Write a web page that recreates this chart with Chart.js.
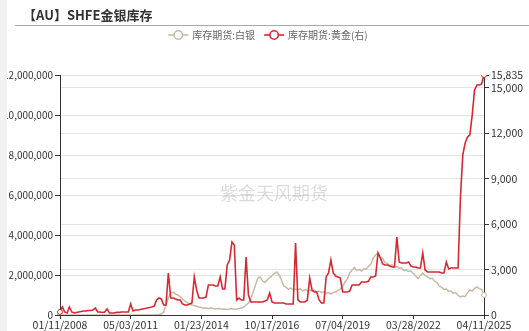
<!DOCTYPE html>
<html>
<head>
<meta charset="utf-8">
<title>SHFE金银库存</title>
<script src="https://cdn.jsdelivr.net/npm/chart.js@4.4.1/dist/chart.umd.min.js"></script>
<style>
  html, body { margin: 0; padding: 0; background: #fff; }
  #wrap { position: relative; width: 529px; height: 331px; }
</style>
</head>
<body>
<div id="wrap"><canvas id="inventory-chart" width="529" height="331"></canvas></div>
<script>
// data
const chartTitle = "【AU】SHFE金银库存";
const seriesNames = ["库存期货:白银", "库存期货:黄金(右)"];
const watermark = "紫金天风期货";

// one label every 30 points on the category axis
const tickStep = 30;
const tickLabels = ["01/11/2008", "05/03/2011", "01/23/2014", "10/17/2016", "07/04/2019", "03/28/2022", "04/11/2025"];
const leftTicks = [0, 2000000, 4000000, 6000000, 8000000, 10000000, 12000000];
const rightTicks = [0, 3000, 6000, 9000, 12000, 15000, 15835];

// silver inventory (kg), left axis
const silver = [
  0, 0, 0, 0, 0, 0, 0, 0, 0, 0,
  0, 0, 0, 0, 0, 0, 0, 0, 0, 0,
  0, 0, 0, 0, 0, 0, 0, 0, 0, 0,
  0, 0, 0, 0, 0, 0, 0, 0, 0, 0,
  0, 10000, 20000, 50000, 150000, 500000, 850000, 1100000, 1150000, 1050000,
  1000000, 920000, 800000, 700000, 620000, 560000, 500000, 470000, 440000, 400000,
  380000, 340000, 360000, 330000, 350000, 320000, 300000, 330000, 310000, 290000,
  300000, 280000, 300000, 310000, 290000, 300000, 320000, 350000, 400000, 500000,
  600000, 800000, 1150000, 1500000, 1850000, 1900000, 1700000, 1620000, 1750000, 1880000,
  1950000, 2080000, 2150000, 2000000, 1750000, 1450000, 1380000, 1280000, 1350000, 1250000,
  1300000, 1260000, 1320000, 1200000, 1280000, 1220000, 1260000, 1190000, 1240000, 1150000,
  1200000, 1120000, 1160000, 1080000, 1120000, 1050000, 1130000, 1150000, 1220000, 1300000,
  1450000, 1650000, 1800000, 2100000, 2250000, 2380000, 2220000, 2280000, 2200000, 2320000,
  2300000, 2420000, 2550000, 2850000, 3000000, 3100000, 2900000, 2820000, 2620000, 2580000,
  2480000, 2500000, 2380000, 2420000, 2330000, 2360000, 2220000, 2260000, 2180000, 2200000,
  2080000, 1950000, 1830000, 1980000, 2100000, 1980000, 1920000, 1820000, 1840000, 1700000,
  1620000, 1450000, 1380000, 1280000, 1300000, 1180000, 1200000, 1080000, 1120000, 980000,
  900000, 950000, 920000, 1120000, 1250000, 1200000, 1330000, 1400000, 1320000, 1280000,
  1000000
];

// gold inventory (kg), right axis
const gold = [
  200, 530, 200, 130, 530, 200, 130, 170, 200, 230,
  260, 260, 300, 300, 330, 460, 200, 200, 170, 200,
  400, 130, 130, 130, 170, 170, 200, 200, 200, 200,
  730, 270, 330, 330, 360, 400, 430, 460, 500, 530,
  590, 990, 1120, 1060, 660, 660, 2770, 1120, 1120, 1060,
  990, 990, 730, 660, 660, 730, 790, 2510, 1650, 1120,
  1120, 1120, 1190, 1980, 1980, 1980, 1910, 1910, 2510, 1720,
  1720, 3300, 3630, 4820, 4620, 990, 1120, 990, 990, 3830,
  1320, 860, 860, 860, 860, 860, 860, 920, 990, 1450,
  860, 790, 790, 790, 790, 790, 730, 730, 730, 730,
  4750, 1000, 860, 860, 860, 990, 2440, 1650, 1520, 1520,
  990, 790, 790, 2510, 2770, 3630, 2770, 2570, 2510, 2440,
  1520, 1520, 1520, 1580, 1980, 1980, 1980, 1980, 2180, 2180,
  2180, 2240, 2510, 2510, 2570, 4090, 3760, 3370, 3300, 3300,
  3230, 3170, 3170, 5150, 3500, 3430, 3430, 3430, 3500, 3230,
  3170, 3170, 3100, 3100, 4090, 2970, 2840, 2840, 2840, 2840,
  2840, 2840, 2770, 2770, 3500, 3040, 3100, 3100, 3100, 3100,
  7790, 10560, 11350, 11740, 11880, 13200, 14850, 15180, 15180, 15240,
  15835
];

const silverColor = "#c9baa6";
const goldColor = "#d42a30";
const labelFont = "'Noto Sans CJK SC', 'Liberation Sans', sans-serif";

Chart.defaults.font.family = labelFont;
Chart.defaults.font.size = 10.5;
Chart.defaults.color = "#333";

// category index per point, named ticks every tickStep
const categories = silver.map(function (v, i) { return i; });

function fmt(v) {
  return Number(v).toLocaleString("en-US");
}

// endpoints get the small hollow marker
function endPoint(ctx) {
  const last = ctx.dataset.data.length - 1;
  return ctx.dataIndex === 0 || ctx.dataIndex === last ? 2.5 : 0;
}

// title, rule, legend, watermark and the grey side strip
const framePlugin = {
  id: "frame",
  beforeDatasetsDraw(chart) {
    const c = chart.ctx;
    const a = chart.chartArea;
    c.save();
    c.font = "18px " + labelFont;
    c.fillStyle = "rgba(0,0,0,0.14)";
    c.textAlign = "center";
    c.textBaseline = "middle";
    c.fillText(watermark, (a.left + a.right) / 2 + 2, 193);
    c.restore();
  },
  afterDraw(chart) {
    const c = chart.ctx;
    c.save();
    // title
    c.font = "bold 13px " + labelFont;
    c.fillStyle = "#333";
    c.textAlign = "left";
    c.textBaseline = "middle";
    c.fillText(chartTitle, 23, 15);
    // rule under title
    c.strokeStyle = "#aaa";
    c.lineWidth = 1;
    c.beginPath();
    c.moveTo(15, 25.5);
    c.lineTo(529, 25.5);
    c.stroke();
    // legend
    c.font = "10px " + labelFont;
    const items = chart.data.datasets.map(function (d) {
      return { text: d.label, color: d.borderColor, w: c.measureText(d.label).width };
    });
    const sym = 20, gap = 4, between = 9;
    let total = 0;
    items.forEach(function (it, i) {
      total += sym + gap + it.w + (i ? between : 0);
    });
    let x = 268 - total / 2;
    const y = 35;
    items.forEach(function (it) {
      c.strokeStyle = it.color;
      c.lineWidth = 1.6;
      c.beginPath();
      c.moveTo(x, y);
      c.lineTo(x + sym, y);
      c.stroke();
      c.beginPath();
      c.arc(x + sym / 2, y, 4.2, 0, Math.PI * 2);
      c.fillStyle = "#fff";
      c.fill();
      c.stroke();
      c.fillStyle = "#666";
      c.fillText(it.text, x + sym + gap, y + 0.5);
      x += sym + gap + it.w + between;
    });
    // grey strip on the left edge
    c.fillStyle = "#f2f2f2";
    c.fillRect(0, 0, 7, 331);
    c.restore();
  },
};

var invChart = new Chart(document.getElementById("inventory-chart"), {
  type: "line",
  data: {
    labels: categories,
    datasets: [
      {
        label: seriesNames[0],
        data: silver,
        yAxisID: "y",
        borderColor: silverColor,
        backgroundColor: silverColor,
        borderWidth: 1.5,
        pointRadius: endPoint,
        pointBackgroundColor: "#fff",
        pointBorderWidth: 1,
        tension: 0,
        order: 2,
      },
      {
        label: seriesNames[1],
        data: gold,
        yAxisID: "y1",
        borderColor: goldColor,
        backgroundColor: goldColor,
        borderWidth: 1.6,
        pointRadius: endPoint,
        pointBackgroundColor: "#fff",
        pointBorderWidth: 1,
        tension: 0,
        order: 1,
      },
    ],
  },
  options: {
    responsive: false,
    animation: false,
    layout: { padding: { top: 75, left: 0, right: 0, bottom: 0 } },
    plugins: {
      legend: { display: false },
      title: { display: false },
      tooltip: { enabled: false },
    },
    scales: {
      x: {
        type: "category",
        offset: false,
        grid: { drawOnChartArea: false, tickLength: 4, tickColor: "#333" },
        border: { color: "#333" },
        ticks: {
          autoSkip: false,
          maxRotation: 0,
          padding: 0,
          color: "#333",
          callback: function (v) {
            return tickLabels[v / tickStep];
          },
        },
        afterBuildTicks: function (s) {
          s.ticks = s.ticks.filter(function (t) { return t.value % tickStep === 0; });
        },
        afterFit: function (s) { s.height = 16; },
      },
      y: {
        position: "left",
        min: 0,
        max: 12000000,
        grid: { color: "#e4e4e4", tickLength: 5, tickColor: "#333" },
        border: { color: "#333" },
        ticks: { padding: 2, color: "#333", autoSkip: false, font: { size: 10 }, callback: fmt },
        afterBuildTicks: function (s) {
          s.ticks = leftTicks.map(function (v) { return { value: v }; });
        },
        afterFit: function (s) { s.width = 60; },
      },
      y1: {
        position: "right",
        min: 0,
        max: 15835,
        grid: { color: "#e4e4e4", tickLength: 5, tickColor: "#333" },
        border: { color: "#333" },
        ticks: { padding: 2, color: "#333", autoSkip: false, callback: fmt },
        afterBuildTicks: function (s) {
          s.ticks = rightTicks.map(function (v) { return { value: v }; });
        },
        afterFit: function (s) { s.width = 45; },
      },
    },
  },
  plugins: [framePlugin],
});
</script>
</body>
</html>
